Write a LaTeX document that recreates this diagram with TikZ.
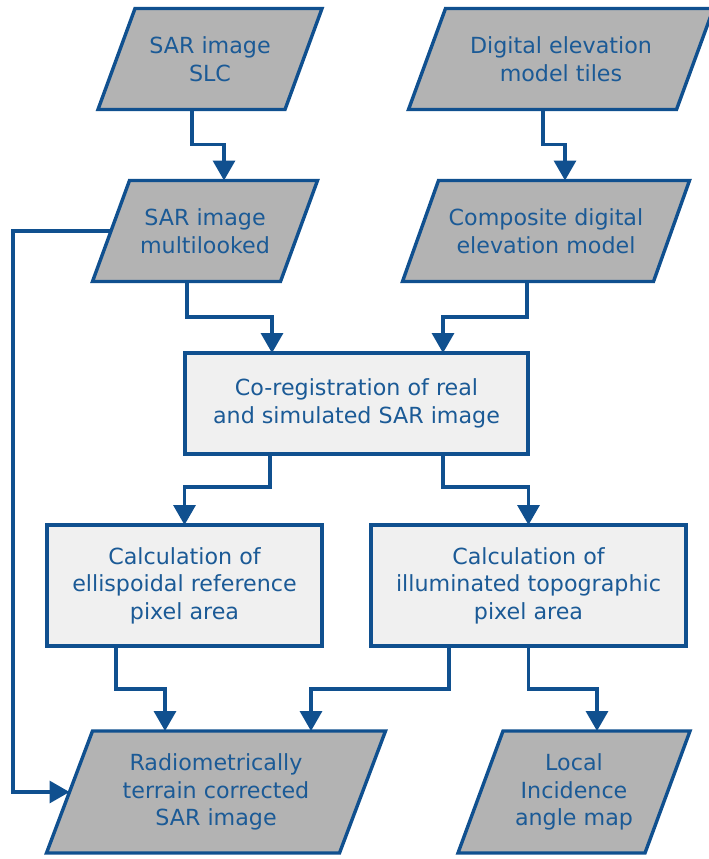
\documentclass[tikz,border=0pt]{standalone}
\usepackage{fontspec}
\setmainfont{DejaVu Sans}
\usetikzlibrary{arrows.meta,backgrounds}
\definecolor{edgeblue}{RGB}{16,80,143}
\definecolor{txtblue}{RGB}{27,90,150}
\definecolor{gfill}{RGB}{179,179,179}
\definecolor{rfill}{RGB}{240,240,240}
\tikzset{
  lbl/.style={text=txtblue, align=center, font=\fontsize{22.2}{27.5}\selectfont, inner sep=0pt, outer sep=0pt},
  procbox/.style={lbl, draw=edgeblue, fill=rfill, line width=3.4pt},
  dataframe/.style={draw=edgeblue, fill=gfill, line width=3.4pt, line join=miter},
  conn/.style={draw=edgeblue, line width=3.4pt, -{Triangle[width=22pt,length=20pt]}},
}
\newcommand\databox[7]{%
  \node[lbl, minimum width=#4pt, minimum height=#5pt] (#1) at (#2,#3) {#7};
  \begin{pgfonlayer}{background}
    \draw[dataframe] ([xshift=#6pt/2]#1.north west) -- ([xshift=#6pt/2]#1.north east)
      -- ([xshift=-#6pt/2]#1.south east) -- ([xshift=-#6pt/2]#1.south west) -- cycle;
  \end{pgfonlayer}}
\begin{document}
\begin{tikzpicture}[x=1pt,y=-1pt]
\useasboundingbox (0,0) rectangle (709,859);
\databox{slc}{210}{59}{187}{101}{37}{SAR image\\SLC}
\databox{dem}{561}{59}{268}{101}{37}{Digital elevation\\model tiles}
\databox{ml}{205}{231}{188}{101}{37}{SAR image\\multilooked}
\databox{comp}{546}{231}{251}{101}{36}{Composite digital\\elevation model}
\node[procbox, minimum width=343pt, minimum height=101pt] (coreg) at (356.5,403.5) {Co-registration of real\\and simulated SAR image};
\node[procbox, minimum width=275pt, minimum height=121pt] (ellip) at (184.5,585.5) {Calculation of\\ellispoidal reference\\pixel area};
\node[procbox, minimum width=315pt, minimum height=121pt] (illum) at (528.5,585.5) {Calculation of\\illuminated topographic\\pixel area};
\databox{rad}{216}{792}{293}{122}{46}{Radiometrically\\terrain corrected\\SAR image}
\databox{loc}{574}{792}{187}{122}{45}{Local\\Incidence\\angle map}

\draw[conn] ([xshift=-18pt]slc.south) -- ++(0,35) -| ([xshift=19pt]ml.north);
\draw[conn] ([xshift=-18pt]dem.south) -- ++(0,35) -| ([xshift=19pt]comp.north);
\draw[conn] ([xshift=-18pt]ml.south) -- ++(0,35.5) -| ([xshift=-84.5pt]coreg.north);
\draw[conn] ([xshift=-19pt]comp.south) -- ++(0,35.5) -| ([xshift=86.5pt]coreg.north);
\draw[conn] ([xshift=-86.5pt]coreg.south) -- ++(0,33) -| (ellip.north);
\draw[conn] ([xshift=86.5pt]coreg.south) -- ++(0,33) -| (illum.north);
\draw[conn] ([xshift=-68.5pt]ellip.south) -- ++(0,43) -| ([xshift=-51pt]rad.north);
\draw[conn] ([xshift=-79.5pt]illum.south) -- ++(0,43) -| ([xshift=95pt]rad.north);
\draw[conn] (illum.south) -- ++(0,43) -| ([xshift=23pt]loc.north);
\draw[conn] (ml.west) -- ++(-98,0) |- (rad.west);
\end{tikzpicture}
\end{document}
